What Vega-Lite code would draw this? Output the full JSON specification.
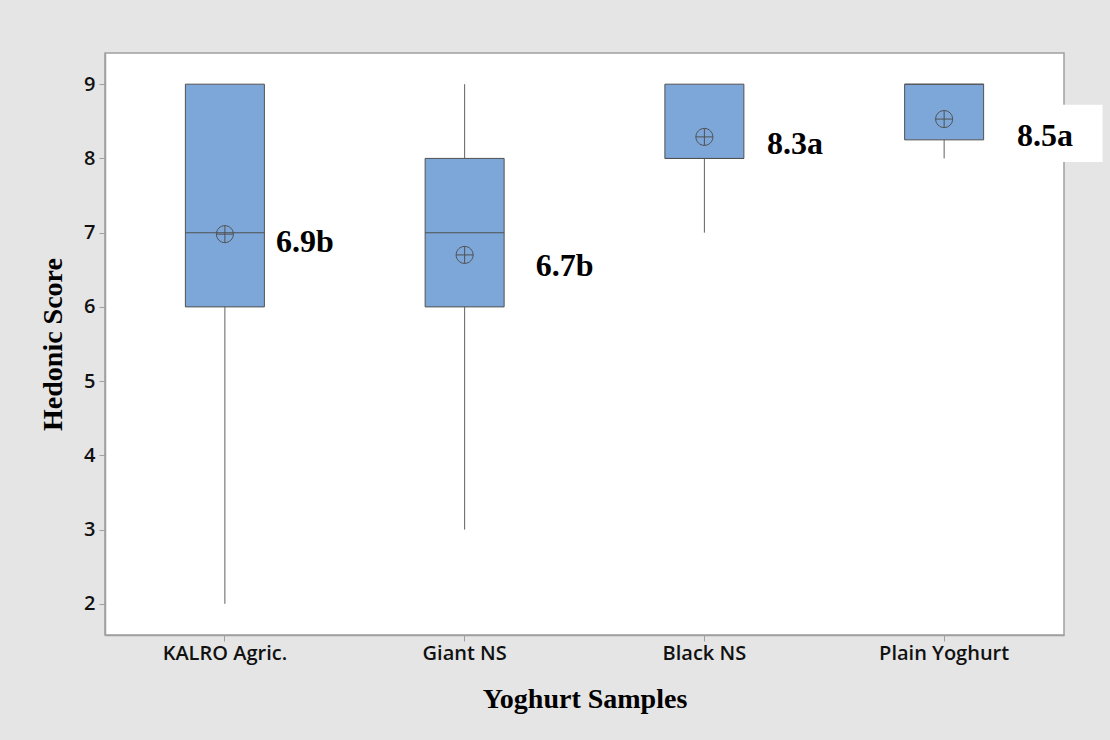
{
  "$schema": "https://vega.github.io/schema/vega-lite/v6.json",
  "width": 959,
  "height": 582,
  "autosize": "none",
  "padding": {"left": 105, "top": 53, "right": 46, "bottom": 105},
  "background": "#e5e5e5",
  "config": {
    "view": {"fill": "white", "stroke": "#a0a0a0", "strokeWidth": 1.5},
    "axis": {
      "labelFont": "Open Sans",
      "labelFontSize": 20,
      "labelFontWeight": 600,
      "labelColor": "#111111",
      "tickColor": "#a0a0a0",
      "tickSize": 6,
      "domainColor": "#a0a0a0",
      "domainWidth": 1.5,
      "titleFont": "Liberation Serif",
      "titleFontSize": 28,
      "titleFontWeight": "bold",
      "titleColor": "black",
      "grid": false
    }
  },
  "data": {
    "values": [
      {"sample": "KALRO Agric.", "min": 2, "q1": 6, "median": 7, "q3": 9, "max": 9, "mean": 6.98, "label": "6.9b", "labelX": 1.334, "labelY": 6.876},
      {"sample": "Giant NS", "min": 3, "q1": 6, "median": 7, "q3": 8, "max": 9, "mean": 6.70, "label": "6.7b", "labelX": 2.417, "labelY": 6.553},
      {"sample": "Black NS", "min": 7, "q1": 8, "median": 8, "q3": 9, "max": 9, "mean": 8.29, "label": "8.3a", "labelX": 3.378, "labelY": 8.196},
      {"sample": "Plain Yoghurt", "min": 8, "q1": 8.25, "median": 9, "q3": 9, "max": 9, "mean": 8.53, "label": "8.5a", "labelX": 4.421, "labelY": 8.297}
    ]
  },
  "layer": [
    {
      "encoding": {
        "x": {
          "field": "sample",
          "type": "nominal",
          "sort": null,
          "scale": {"paddingInner": 0, "paddingOuter": 0},
          "axis": {"title": "Yoghurt Samples", "labelAngle": 0, "labelPadding": 2, "titlePadding": 22}
        }
      },
      "layer": [
        {
          "mark": {"type": "rule", "color": "#606060", "strokeWidth": 1},
          "encoding": {
            "y": {
              "field": "min",
              "type": "quantitative",
              "scale": {"domain": [1.58, 9.42], "nice": false, "zero": false},
              "axis": {"title": "Hedonic Score", "values": [2, 3, 4, 5, 6, 7, 8, 9], "format": "d", "labelPadding": 4, "titlePadding": 16}
            },
            "y2": {"field": "q1"}
          }
        },
        {
          "mark": {"type": "rule", "color": "#606060", "strokeWidth": 1},
          "encoding": {
            "y": {"field": "q3", "type": "quantitative"},
            "y2": {"field": "max"}
          }
        },
        {
          "mark": {"type": "bar", "width": 79, "fill": "#7DA7D9", "stroke": "#505050", "strokeWidth": 1},
          "encoding": {
            "y": {"field": "q3", "type": "quantitative"},
            "y2": {"field": "q1"}
          }
        },
        {
          "mark": {"type": "tick", "size": 79, "thickness": 1, "color": "#505050", "opacity": 1},
          "encoding": {
            "y": {"field": "median", "type": "quantitative"}
          }
        },
        {
          "mark": {"type": "point", "shape": "M-1,0A1,1 0 1,0 1,0A1,1 0 1,0 -1,0M-1,0L1,0M0,-1L0,1", "size": 289, "filled": false, "stroke": "#505050", "strokeWidth": 1, "opacity": 1},
          "encoding": {
            "y": {"field": "mean", "type": "quantitative"}
          }
        }
      ]
    },
    {
      "encoding": {
        "x": {"field": "labelX", "type": "quantitative", "scale": {"domain": [0.5, 4.5], "nice": false, "zero": false}, "axis": null},
        "y": {"field": "labelY", "type": "quantitative"}
      },
      "layer": [
        {
          "mark": {"type": "point", "shape": "M-1,-0.588L1,-0.588L1,0.588L-1,0.588Z", "size": 9409, "filled": true, "fill": "white", "strokeWidth": 0, "opacity": 1, "xOffset": 9, "yOffset": -3}
        },
        {
          "mark": {"type": "text", "font": "Liberation Serif", "fontWeight": "bold", "fontSize": 32, "align": "center", "baseline": "middle", "color": "black"},
          "encoding": {"text": {"field": "label"}}
        }
      ]
    }
  ],
  "resolve": {"scale": {"x": "independent"}, "axis": {"x": "independent"}}
}
